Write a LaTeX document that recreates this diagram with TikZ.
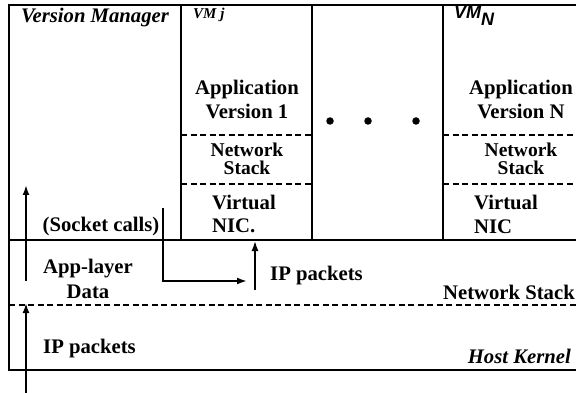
\documentclass[tikz,border=0pt]{standalone}
\usepackage{fontspec}
\setmainfont{Liberation Serif}
\newfontfamily\sansf{Liberation Sans}
\usetikzlibrary{arrows.meta}
\begin{document}
\begin{tikzpicture}[x=1pt,y=-1pt,
  frame/.style={line width=2.3pt},
  dashline/.style={line width=2.2pt,dash pattern=on 6pt off 3.5pt},
  lbl/.style={font=\fontsize{20.7}{20.7}\selectfont\bfseries, inner sep=0pt},
  ital/.style={font=\fontsize{20.7}{20.7}\selectfont\bfseries\itshape, inner sep=0pt},
  twoline/.style={font=\fontsize{19.5}{18.5}\selectfont\bfseries, inner sep=0pt, align=center},
  arr/.style={line width=2pt,-{Latex[length=10pt,width=7pt]}},
  dotn/.style={circle,fill,inner sep=0pt,minimum size=7.5pt}]
\useasboundingbox (0,0) rectangle (576,393);
% frame
\draw[frame] (590,5) -- (9,5) -- (9,370) -- (590,370);
\draw[frame] (9,240) -- (590,240);
\draw[dashline] (9,305) -- (590,305);
% VM boxes
\draw[frame] (181,5) -- (181,240);
\draw[frame] (312,5) -- (312,240);
\draw[frame] (443,5) -- (443,240);
\draw[dashline] (181,135) -- (312,135);
\draw[dashline] (181,184) -- (312,184);
\draw[dashline] (443,135) -- (590,135);
\draw[dashline] (443,184) -- (590,184);
% texts
\node[ital] (vm) at (95,18) {Version Manager};
\node[font=\fontsize{15}{15}\selectfont\bfseries\itshape, inner sep=0pt, anchor=west] (vmj) at (193,15) {VM j};
\node[font=\fontsize{18}{18}\selectfont\sansf\bfseries\itshape, inner sep=0pt, anchor=west] (vmn) at (454,16) {VM$_{\mbox{\fontsize{18}{18}\selectfont\sansf\bfseries\itshape N}}$};
\node[lbl] (app1) at (247,90) {Application};
\node[lbl] (ver1) at (247,111) {Version 1};
\node[twoline] (ns1) at (247,159) {Network\\ Stack};
\node[lbl,anchor=west] (vir1) at (212,202) {Virtual};
\node[lbl,anchor=west] (nic1) at (212,226) {NIC.};
\node[lbl] (appn) at (521,90) {Application};
\node[lbl] (vern) at (521,111) {Version N};
\node[twoline] (nsn) at (521,159) {Network\\ Stack};
\node[lbl,anchor=west] (virn) at (474,202) {Virtual};
\node[lbl,anchor=west] (nicn) at (474,227) {NIC};
\node[dotn] (d1) at (330,121) {};
\node[dotn] (d2) at (368,121) {};
\node[dotn] (d3) at (416,121) {};
\node[lbl] (sock) at (101,227) {(Socket calls)};
\node[lbl] (appl) at (88,269) {App-layer};
\node[lbl] (data) at (88,292) {Data};
\node[lbl,anchor=west] (ipm) at (270,276) {IP packets};
\node[lbl,anchor=east] (nsk) at (575,292) {Network Stack};
\node[lbl,anchor=west] (ipb) at (43,349) {IP packets};
\node[ital,anchor=east] (hk) at (571,356) {Host Kernel};
% arrows
\coordinate (a0) at (26,393);
\coordinate (a1) at (26,303);
\coordinate (b0) at (26,281);
\coordinate (b1) at (26,185);
\draw[arr] (a0) -- (a1);
\draw[arr] (b0) -- (b1);
\coordinate (s0) at (163,208);
\coordinate (s1) at (163,281);
\coordinate (s2) at (247,281);
\draw[arr,line width=1.8pt] (s0) -- (s1) -- (s2);
\coordinate (p0) at (255,290);
\coordinate (p1) at (255,241);
\draw[arr,line width=1.5pt] (p0) -- (p1);
\end{tikzpicture}
\end{document}
